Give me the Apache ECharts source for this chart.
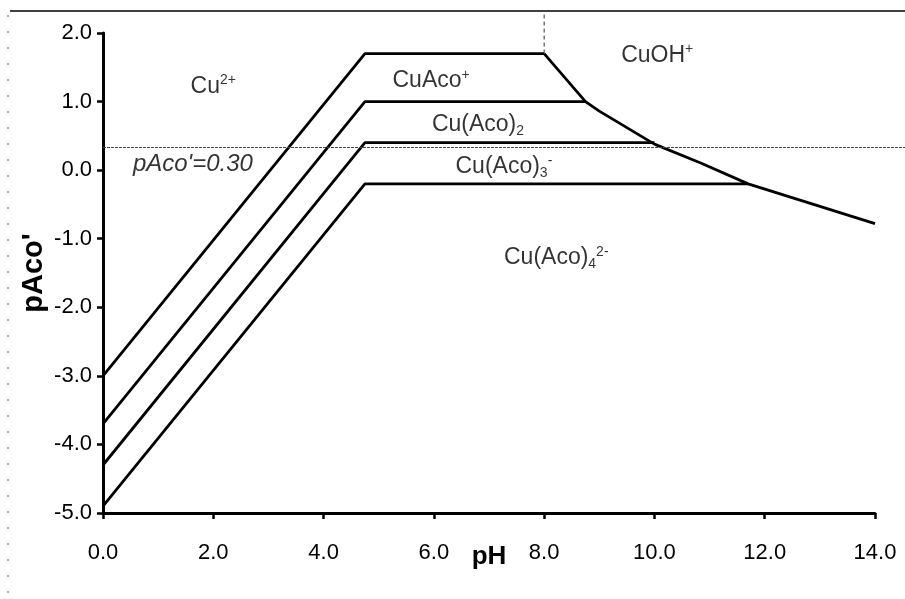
<!DOCTYPE html>
<html>
<head>
<meta charset="utf-8">
<script src="https://cdn.jsdelivr.net/npm/echarts@6/dist/echarts.min.js"></script>
<style>html,body{margin:0;padding:0;background:#fff}#c{width:905px;height:599px}</style>
</head>
<body>
<div id="c"></div>
<script>
// pH axis ticks and pAco' axis ticks
const xTicks = [0, 2, 4, 6, 8, 10, 12, 14];
const yTicks = [-5, -4, -3, -2, -1, 0, 1, 2];

// Boundary lines (pH, pAco')
const lineCu_CuAco = [[0, -3.0], [4.75, 1.7], [8.0, 1.7]];
const lineCuOH = [[8.0, 1.7], [8.75, 1.0], [9.0, 0.86], [10.0, 0.38], [10.85, 0.1], [11.7, -0.2], [14.0, -0.78]];
const lineCuAco_Aco2 = [[0, -3.7], [4.75, 1.0], [8.75, 1.0]];
const lineAco2_Aco3 = [[0, -4.3], [4.75, 0.4], [10.0, 0.4]];
const lineAco3_Aco4 = [[0, -4.9], [4.75, -0.2], [11.7, -0.2]];
const refLevel = [[0, 0.33], [14.55, 0.33]];
const vertLine = [[8.0, 1.7], [8.0, 2.32]];

// Region labels: [pH, pAco', text]
const speciesLabels = [
  [2.0, 1.22, '{n|Cu}{sup|2+}'],
  [5.95, 1.3, '{n|CuAco}{sup|+}'],
  [6.8, 0.66, '{n|Cu(Aco)}{sub|2}'],
  [7.27, 0.05, '{n|Cu(Aco)}{sub|3}{sup|-}'],
  [8.22, -1.28, '{n|Cu(Aco)}{sub|4}{sup|2-}'],
  [10.05, 1.67, '{n|CuOH}{sup|+}'],
  [1.63, 0.08, '{it|pAco\'=0.30}']
];

const chart = echarts.init(document.getElementById('c'));
const lineStyle = {color: '#000', width: 2.8};
function boundary(data) {
  return {type: 'line', data: data, symbol: 'none', lineStyle: lineStyle, clip: false, silent: true};
}
chart.setOption({
  animation: false,
  textStyle: {fontFamily: 'Liberation Sans, Arial, sans-serif'},
  grid: [
    {left: 103, right: 30, top: 33, bottom: 86},
    {left: 103, right: 0, top: 33, bottom: 86}
  ],
  xAxis: [{
    type: 'value', min: 0, max: 14, interval: 2,
    name: 'pH', nameLocation: 'middle', nameGap: 31, nameMoveOverlap: false,
    nameTextStyle: {fontSize: 26, fontWeight: 'bold', color: '#000'},
    axisLine: {show: true, onZero: false, lineStyle: {color: '#000', width: 3}},
    axisTick: {show: true, length: 6, lineStyle: {color: '#000', width: 2.5}},
    axisLabel: {color: '#000', fontSize: 22, margin: 29, formatter: v => v.toFixed(1)},
    splitLine: {show: false}
  }, {
    gridIndex: 1, type: 'value', min: 0, max: 14.55, show: false
  }],
  yAxis: [{
    type: 'value', min: -5, max: 2, interval: 1,
    name: 'pAco\'', nameLocation: 'middle', nameGap: 55, nameRotate: 90, nameMoveOverlap: false,
    nameTextStyle: {fontSize: 29, fontWeight: 'bold', color: '#000'},
    axisLine: {show: true, onZero: false, lineStyle: {color: '#000', width: 3}},
    axisTick: {show: true, length: 6, lineStyle: {color: '#000', width: 2.5}},
    axisLabel: {color: '#000', fontSize: 22, margin: 11, formatter: v => v.toFixed(1)},
    splitLine: {show: false}
  }, {
    gridIndex: 1, type: 'value', min: -5, max: 2, show: false
  }],
  graphic: [
    {type: 'line', shape: {x1: 10, y1: 11, x2: 905, y2: 11}, style: {stroke: '#000', lineWidth: 1.5}},
    {type: 'line', shape: {x1: 8, y1: 15, x2: 8, y2: 599}, style: {stroke: '#555', lineWidth: 1, lineDash: [2, 14]}}
  ],
  series: [
    boundary(lineCu_CuAco),
    boundary(lineCuOH),
    boundary(lineCuAco_Aco2),
    boundary(lineAco2_Aco3),
    boundary(lineAco3_Aco4),
    {type: 'line', xAxisIndex: 1, yAxisIndex: 1, data: refLevel, symbol: 'none', clip: false, silent: true,
     lineStyle: {color: '#444', width: 1, type: [3, 1]}},
    {type: 'line', data: vertLine, symbol: 'none', clip: false, silent: true,
     lineStyle: {color: '#333', width: 1, type: [4, 3]}},
    {type: 'scatter', symbolSize: 0, silent: true, clip: false,
     data: speciesLabels.map(d => ({value: [d[0], d[1]], label: {formatter: d[2]}})),
     label: {show: true, position: 'inside', color: '#000',
       rich: {
         n: {fontSize: 23, color: '#000', lineHeight: 26, verticalAlign: 'middle'},
         sup: {fontSize: 14, color: '#000', verticalAlign: 'top', lineHeight: 14},
         sub: {fontSize: 14, color: '#000', verticalAlign: 'bottom', lineHeight: 14},
         it: {fontSize: 24, fontStyle: 'italic', color: '#000', lineHeight: 26}
       }}}
  ]
});
</script>
</body>
</html>
